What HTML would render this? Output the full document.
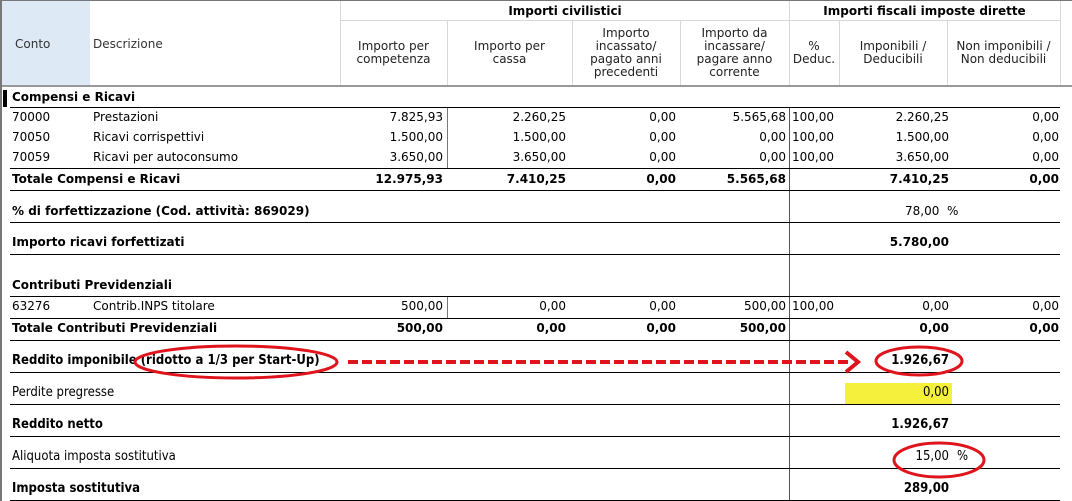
<!DOCTYPE html>
<html><head><meta charset="utf-8"><style>
body{margin:0;width:1072px;height:501px;background:#fff;position:relative;overflow:hidden;font-family:"DejaVu Sans","Liberation Sans",sans-serif;font-size:12px;color:#000}
.a{position:absolute;white-space:nowrap;line-height:14px}
.r{text-align:right;line-height:20px}
.c{text-align:center;line-height:13px;color:#222}
.b{font-weight:bold}
.h{position:absolute;height:1px;background:#000}
.g{position:absolute;background:#d8d8d8}
.cd{font-family:"DejaVu Sans Condensed","Liberation Sans Narrow",sans-serif;font-size:13px}
</style></head><body>
<div style="position:absolute;left:0;top:0;width:1072px;height:1px;background:#777"></div>
<div style="position:absolute;left:0;top:0;width:2px;height:501px;background:#777"></div>
<div style="position:absolute;left:2px;top:1px;width:88px;height:84px;background:#dde9f5"></div>
<div class="g" style="left:340px;top:20px;width:720px;height:1px"></div>
<div class="g" style="left:340px;top:1px;width:1px;height:84px"></div>
<div class="g" style="left:447px;top:20px;width:1px;height:65px"></div>
<div class="g" style="left:572px;top:20px;width:1px;height:65px"></div>
<div class="g" style="left:680px;top:20px;width:1px;height:65px"></div>
<div class="g" style="left:789px;top:1px;width:1px;height:84px"></div>
<div class="g" style="left:839px;top:20px;width:1px;height:65px"></div>
<div class="g" style="left:947px;top:20px;width:1px;height:65px"></div>
<div class="g" style="left:1060px;top:1px;width:1px;height:84px"></div>
<div style="position:absolute;left:2px;top:85px;width:1070px;height:2px;background:#999"></div>
<div class="a b" style="left:340px;top:4px;width:450px;text-align:center">Importi civilistici</div>
<div class="a b" style="left:789px;top:4px;width:271px;text-align:center">Importi fiscali imposte dirette</div>
<div class="a" style="left:15px;top:37px;color:#333">Conto</div>
<div class="a" style="left:93px;top:37px;color:#333">Descrizione</div>
<div class="a c" style="left:340px;top:40px;width:107px">Importo per<br>competenza</div>
<div class="a c" style="left:447px;top:40px;width:125px">Importo per<br>cassa</div>
<div class="a c" style="left:572px;top:27px;width:108px">Importo<br>incassato/<br>pagato anni<br>precedenti</div>
<div class="a c" style="left:680px;top:27px;width:109px">Importo da<br>incassare/<br>pagare anno<br>corrente</div>
<div class="a c" style="left:789px;top:40px;width:50px">%<br>Deduc.</div>
<div class="a c" style="left:839px;top:40px;width:108px">Imponibili /<br>Deducibili</div>
<div class="a c" style="left:947px;top:40px;width:113px">Non imponibili /<br>Non deducibili</div>

<div style="position:absolute;left:3px;top:90px;width:4px;height:17px;background:#000"></div>
<div class="a b" style="left:12px;top:90px">Compensi e Ricavi</div>
<div class="h" style="left:10px;top:107px;width:1050px"></div>
<div style="position:absolute;left:789px;top:108px;width:1px;height:393px;background:#555"></div>
<div style="position:absolute;left:447px;top:108px;width:1px;height:60px;background:#777"></div>

<div class="a" style="left:12px;top:110px">70000</div><div class="a" style="left:93px;top:110px">Prestazioni</div>
<div class="a" style="left:12px;top:130px">70050</div><div class="a" style="left:93px;top:130px">Ricavi corrispettivi</div>
<div class="a" style="left:12px;top:150px">70059</div><div class="a" style="left:93px;top:150px">Ricavi per autoconsumo</div>
<div class="a r" style="left:330px;top:107px;width:113px">7.825,93<br>1.500,00<br>3.650,00</div>
<div class="a r" style="left:460px;top:107px;width:106px">2.260,25<br>1.500,00<br>3.650,00</div>
<div class="a r" style="left:572px;top:107px;width:104px">0,00<br>0,00<br>0,00</div>
<div class="a r" style="left:680px;top:107px;width:106px">5.565,68<br>0,00<br>0,00</div>
<div class="a" style="left:792px;top:107px;line-height:20px">100,00<br>100,00<br>100,00</div>
<div class="a r" style="left:839px;top:107px;width:110px">2.260,25<br>1.500,00<br>3.650,00</div>
<div class="a r" style="left:947px;top:107px;width:112px">0,00<br>0,00<br>0,00</div>
<div class="h" style="left:10px;top:168px;width:1050px"></div>
<div class="a b" style="left:12px;top:172px">Totale Compensi e Ricavi</div>
<div class="a r b" style="left:330px;top:169px;width:113px">12.975,93</div>
<div class="a r b" style="left:460px;top:169px;width:106px">7.410,25</div>
<div class="a r b" style="left:572px;top:169px;width:104px">0,00</div>
<div class="a r b" style="left:680px;top:169px;width:106px">5.565,68</div>
<div class="a r b" style="left:839px;top:169px;width:110px">7.410,25</div>
<div class="a r b" style="left:947px;top:169px;width:112px">0,00</div>
<div class="h" style="left:10px;top:190px;width:1050px"></div>

<div class="a b" style="left:12px;top:204px">% di forfettizzazione (Cod. attività: 869029)</div>
<div class="a" style="left:905px;top:204px">78,00&nbsp; %</div>
<div class="h" style="left:10px;top:222px;width:1050px"></div>
<div class="a b" style="left:12px;top:235px">Importo ricavi forfettizati</div>
<div class="a b r" style="left:839px;top:232px;width:110px">5.780,00</div>
<div class="h" style="left:10px;top:254px;width:1050px"></div>

<div class="a b" style="left:12px;top:278px">Contributi Previdenziali</div>
<div class="h" style="left:10px;top:296px;width:1050px"></div>
<div style="position:absolute;left:447px;top:297px;width:1px;height:21px;background:#777"></div>
<div class="a" style="left:12px;top:299px">63276</div><div class="a" style="left:93px;top:299px">Contrib.INPS titolare</div>
<div class="a r" style="left:330px;top:296px;width:113px">500,00</div>
<div class="a r" style="left:460px;top:296px;width:106px">0,00</div>
<div class="a r" style="left:572px;top:296px;width:104px">0,00</div>
<div class="a r" style="left:680px;top:296px;width:106px">500,00</div>
<div class="a" style="left:792px;top:299px">100,00</div>
<div class="a r" style="left:839px;top:296px;width:110px">0,00</div>
<div class="a r" style="left:947px;top:296px;width:112px">0,00</div>
<div class="h" style="left:10px;top:318px;width:1050px"></div>
<div class="a b" style="left:12px;top:321px">Totale Contributi Previdenziali</div>
<div class="a r b" style="left:330px;top:318px;width:113px">500,00</div>
<div class="a r b" style="left:460px;top:318px;width:106px">0,00</div>
<div class="a r b" style="left:572px;top:318px;width:104px">0,00</div>
<div class="a r b" style="left:680px;top:318px;width:106px">500,00</div>
<div class="a r b" style="left:839px;top:318px;width:110px">0,00</div>
<div class="a r b" style="left:947px;top:318px;width:112px">0,00</div>
<div class="h" style="left:10px;top:340px;width:1050px"></div>

<div class="a b cd" style="left:12px;top:354px">Reddito imponibile (ridotto a 1/3 per Start-Up)</div>
<div class="a r b cd" style="left:839px;top:351px;width:110px">1.926,67</div>
<div class="h" style="left:10px;top:372px;width:1050px"></div>
<div style="position:absolute;left:845px;top:383px;width:107px;height:21px;background:#f4f03c"></div>
<div class="a cd" style="left:12px;top:386px">Perdite pregresse</div>
<div class="a r cd" style="left:839px;top:383px;width:110px">0,00</div>
<div class="h" style="left:10px;top:404px;width:1050px"></div>
<div class="a b cd" style="left:12px;top:418px">Reddito netto</div>
<div class="a r b cd" style="left:839px;top:415px;width:110px">1.926,67</div>
<div class="h" style="left:10px;top:436px;width:1050px"></div>
<div class="a cd" style="left:12px;top:450px">Aliquota imposta sostitutiva</div>
<div class="a r cd" style="left:839px;top:447px;width:110px">15,00</div>
<div class="a cd" style="left:957px;top:450px">%</div>
<div class="h" style="left:10px;top:468px;width:1050px"></div>
<div class="a b cd" style="left:12px;top:482px">Imposta sostitutiva</div>
<div class="a r b cd" style="left:839px;top:479px;width:110px">289,00</div>
<div class="h" style="left:10px;top:500px;width:1050px"></div>

<svg style="position:absolute;left:0;top:0" width="1072" height="501">
<g fill="none" stroke="#e0141c" stroke-width="3">
<ellipse cx="236" cy="362" rx="101" ry="16"/>
<ellipse cx="919" cy="361" rx="43" ry="14"/>
<ellipse cx="939" cy="460" rx="45" ry="17"/>
<line x1="348" y1="362" x2="852" y2="362" stroke-dasharray="10,4" stroke-width="4"/>
<polyline points="846,352 858,362 846,372" stroke-width="4"/>
</g>
</svg>
</body></html>
